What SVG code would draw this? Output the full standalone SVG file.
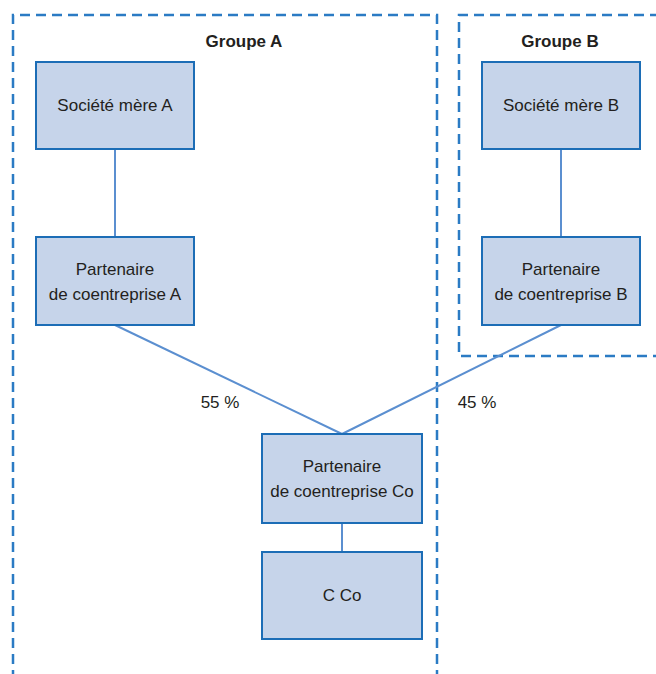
<svg xmlns="http://www.w3.org/2000/svg" width="656" height="674" viewBox="0 0 656 674">
<style>
.grp{fill:none;stroke:#2b7bc4;stroke-width:2.5;stroke-dasharray:10 6}
.box{fill:#c6d4ea;stroke:#1c6db6;stroke-width:2}
.t{font-family:"Liberation Sans",Arial,sans-serif;font-size:17px;fill:#231f20;text-anchor:middle}
.h{font-family:"Liberation Sans",Arial,sans-serif;font-size:17px;font-weight:bold;fill:#231f20;text-anchor:middle}
.c{stroke:#5b8fd0;stroke-width:2;fill:none}
</style>
<rect width="656" height="674" fill="#ffffff"/>
<g id="groupeA">
<path class="grp" d="M13,680 V15 H437 V680"/>
<text class="h" x="244" y="47">Groupe A</text>
</g>
<g id="groupeB">
<path class="grp" d="M660,15 H459 V356 H660"/>
<text class="h" x="560" y="47">Groupe B</text>
</g>
<g id="connectors">
<line class="c" x1="115" y1="149" x2="115" y2="237"/>
<line class="c" x1="561" y1="149" x2="561" y2="237"/>
<line class="c" x1="115" y1="325" x2="342" y2="434"/>
<line class="c" x1="561" y1="325" x2="342" y2="434"/>
<line class="c" x1="342" y1="523" x2="342" y2="552"/>
<text class="t" x="220" y="408">55 %</text>
<text class="t" x="477" y="408">45 %</text>
</g>
<g id="mereA">
<rect class="box" x="36" y="62" width="158" height="87"/>
<text class="t" x="115" y="111">Société mère A</text>
</g>
<g id="mereB">
<rect class="box" x="482" y="62" width="158" height="87"/>
<text class="t" x="561" y="111">Société mère B</text>
</g>
<g id="partA">
<rect class="box" x="36" y="237" width="158" height="88"/>
<text class="t" x="115" y="275">Partenaire</text>
<text class="t" x="115" y="300">de coentreprise A</text>
</g>
<g id="partB">
<rect class="box" x="482" y="237" width="158" height="88"/>
<text class="t" x="561" y="275">Partenaire</text>
<text class="t" x="561" y="300">de coentreprise B</text>
</g>
<g id="partCo">
<rect class="box" x="262" y="434" width="160" height="89"/>
<text class="t" x="342" y="472">Partenaire</text>
<text class="t" x="342" y="497">de coentreprise Co</text>
</g>
<g id="cco">
<rect class="box" x="262" y="552" width="160" height="87"/>
<text class="t" x="342" y="601">C Co</text>
</g>
</svg>
